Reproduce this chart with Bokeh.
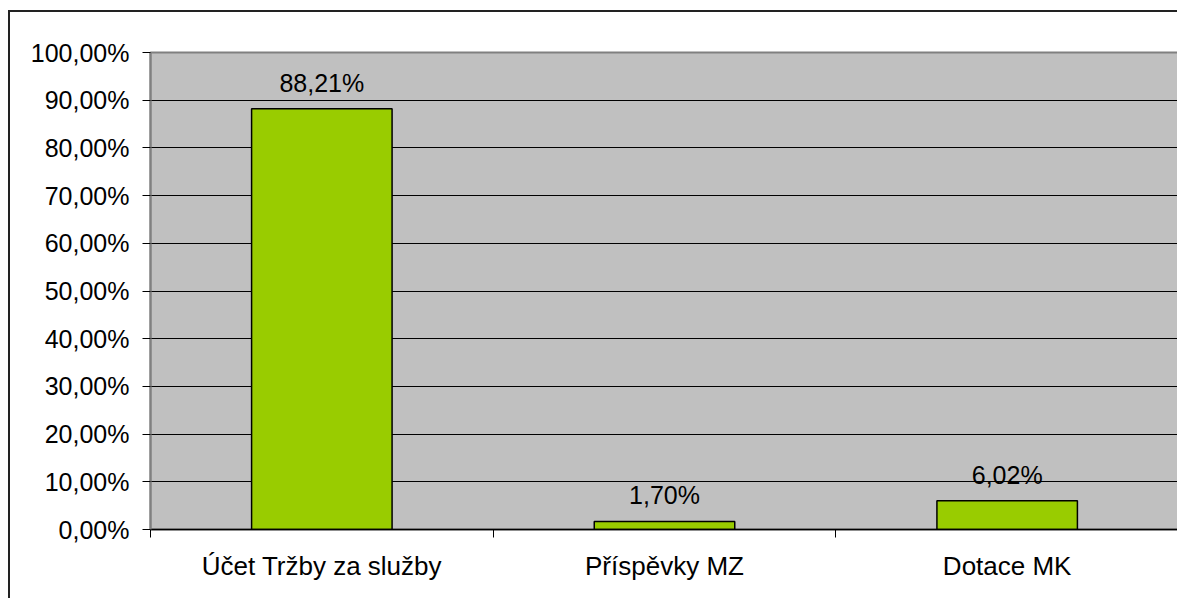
from bokeh.plotting import figure
from bokeh.models import FixedTicker, CustomJSTickFormatter, ColumnDataSource, Range1d
from bokeh.core.properties import value
from bokeh.embed import file_html
from bokeh.resources import INLINE

categories = ["Účet Tržby za služby", "Příspěvky MZ", "Dotace MK"]
values = [88.21, 1.70, 6.02]
labels = ["88,21%", "1,70%", "6,02%"]
y_ticks = [0, 10, 20, 30, 40, 50, 60, 70, 80, 90, 100]

FONT = "Liberation Sans"
FS = "25px"

xs = [i + 0.5 for i in range(len(categories))]
src = ColumnDataSource(dict(x=xs, top=values, lab=labels))

p = figure(width=1169, height=588, output_backend="svg", toolbar_location=None,
           x_range=Range1d(0, len(categories)), y_range=Range1d(0, 100),
           min_border_left=140, min_border_right=1, min_border_top=40, min_border_bottom=71)
p.margin = (10, 0, 0, 8)
p.styles = {"border-top": "2px solid #222", "border-left": "2px solid #222"}

p.background_fill_color = "#C0C0C0"
p.border_fill_color = "white"
p.outline_line_color = "#808080"
p.outline_line_width = 2

p.vbar(x="x", top="top", width=0.41, bottom=0, source=src,
       fill_color="#99CC00", line_color="black", line_width=1.5)
p.text(x="x", y="top", text="lab", source=src, text_align="center",
       text_baseline="alphabetic", y_offset=-26,
       text_font=value(FONT), text_font_size=FS, text_color="black")

# y axis
p.yaxis.ticker = FixedTicker(ticks=y_ticks, minor_ticks=[])
p.yaxis.formatter = CustomJSTickFormatter(code="return tick.toFixed(2).replace('.', ',') + '%';")
p.yaxis.major_label_text_font = FONT
p.yaxis.major_label_text_font_size = FS
p.yaxis.major_label_text_color = "black"
p.yaxis.major_tick_out = 8
p.yaxis.major_tick_in = 0
p.yaxis.major_tick_line_color = "black"
p.yaxis.axis_line_color = "#808080"
p.yaxis.axis_line_width = 2
p.yaxis.major_label_standoff = 13

# x axis: labels at centres, ticks at category boundaries
p.xaxis.ticker = FixedTicker(ticks=xs, minor_ticks=list(range(len(categories) + 1)))
p.xaxis.major_label_overrides = {x: c for x, c in zip(xs, categories)}
p.xaxis.major_tick_out = 0
p.xaxis.major_tick_in = 0
p.xaxis.minor_tick_out = 8
p.xaxis.minor_tick_in = 0
p.xaxis.minor_tick_line_color = "black"
p.xaxis.axis_line_color = "black"
p.xaxis.axis_line_width = 1.5
p.xaxis.major_label_text_font = FONT
p.xaxis.major_label_text_font_size = "26px"
p.xaxis.major_label_text_color = "black"
p.xaxis.major_label_standoff = 13

p.xgrid.visible = False
p.ygrid.ticker = FixedTicker(ticks=[10, 20, 30, 40, 50, 60, 70, 80, 90])
p.ygrid.grid_line_color = "black"
p.ygrid.grid_line_width = 1

open("out.html", "w").write(file_html(p, INLINE))
